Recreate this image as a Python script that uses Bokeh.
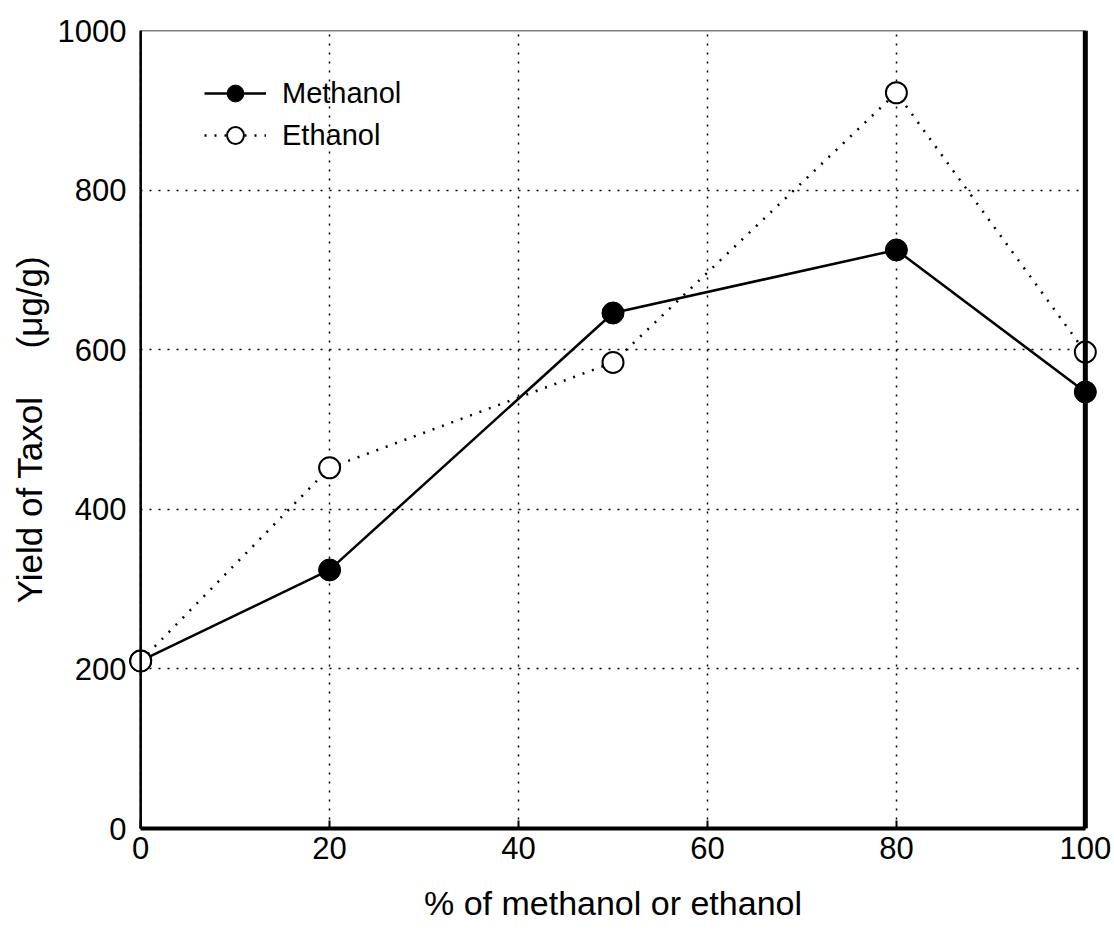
from bokeh.plotting import figure
from bokeh.models import Range1d, Span, Legend, LegendItem, FixedTicker, BoxAnnotation
from bokeh.embed import file_html
from bokeh.resources import INLINE

percent = [0, 20, 50, 80, 100]
methanol = [210, 324, 646, 725, 547]
ethanol = [210, 452, 584, 922, 597]
x_ticks = [0, 20, 40, 60, 80, 100]
y_ticks = [0, 200, 400, 600, 800, 1000]

p = figure(width=1114, height=948, output_backend="svg", toolbar_location=None,
           x_range=Range1d(-1.5, 101.5), y_range=Range1d(0, 1000),
           min_border_left=126, min_border_right=15, min_border_top=30, min_border_bottom=120)
p.background_fill_color = "white"
p.border_fill_color = "white"
p.outline_line_color = None

# grid
for g, t in ((p.xgrid, x_ticks), (p.ygrid, y_ticks)):
    g.ticker = FixedTicker(ticks=t)
    g.grid_line_color = "black"
    g.grid_line_dash = "2 7"
    g.grid_line_width = 1.5
p.ygrid.cross_bounds = (0, 100)

p.xaxis.ticker = FixedTicker(ticks=x_ticks)
p.yaxis.ticker = FixedTicker(ticks=y_ticks)
for ax in (p.xaxis[0], p.yaxis[0]):
    ax.major_tick_in = 8
    ax.major_tick_out = 0
    ax.minor_tick_line_color = None
    ax.major_tick_line_color = "black"
    ax.major_tick_line_width = 2
    ax.axis_line_color = "black"
    ax.major_label_text_font = "Liberation Sans"
    ax.major_label_text_font_size = "31px"
    ax.major_label_text_color = "black"
    ax.axis_label_text_font = "Liberation Sans"
    ax.axis_label_text_font_style = "normal"
    ax.axis_label_text_color = "black"
p.xaxis.bounds = (0, 100)
p.xaxis.axis_line_width = 4
p.yaxis.axis_line_color = None
p.yaxis.major_tick_line_color = None
p.xaxis.major_label_standoff = 8
p.yaxis.major_label_standoff = 0
p.xaxis.axis_label = "% of methanol or ethanol"
p.xaxis.axis_label_text_font_size = "34px"
p.xaxis.axis_label_standoff = 22
p.yaxis.axis_label = "Yield of Taxol\u00a0\u00a0\u00a0\u00a0\u00a0(\u03bcg/g)"
p.yaxis.axis_label_text_font_size = "35px"
p.yaxis.axis_label_standoff = 6

# frame box, left axis line and thick right edge
p.add_layout(BoxAnnotation(left=0, right=100, bottom=0, top=1000, fill_alpha=0,
                           line_color="black", line_width=1.5, line_alpha=1))
p.add_layout(Span(location=0, dimension="height", line_color="black", line_width=2.5))
p.add_layout(Span(location=100, dimension="height", line_color="black", line_width=5))

m_line = p.line(percent, methanol, line_color="black", line_width=2.5)
m_pts = p.scatter(percent, methanol, size=22, marker="circle", fill_color="black", line_color="black")
e_line = p.line(percent, ethanol, line_color="black", line_width=2.5, line_dash="2 8")
e_pts = p.scatter(percent, ethanol, size=21, marker="circle", fill_color="white", line_color="black", line_width=2)

legend = Legend(items=[LegendItem(label="Methanol", renderers=[m_line, m_pts]),
                       LegendItem(label="Ethanol", renderers=[e_line, e_pts])],
                location=(78, 672))
legend.border_line_color = None
legend.background_fill_alpha = 0
legend.label_text_font = "Liberation Sans"
legend.label_text_font_size = "29px"
legend.label_text_color = "black"
legend.glyph_width = 62
legend.glyph_height = 42
legend.spacing = 0
legend.label_standoff = 16
p.add_layout(legend)

open("out.html", "w").write(file_html(p, INLINE))
